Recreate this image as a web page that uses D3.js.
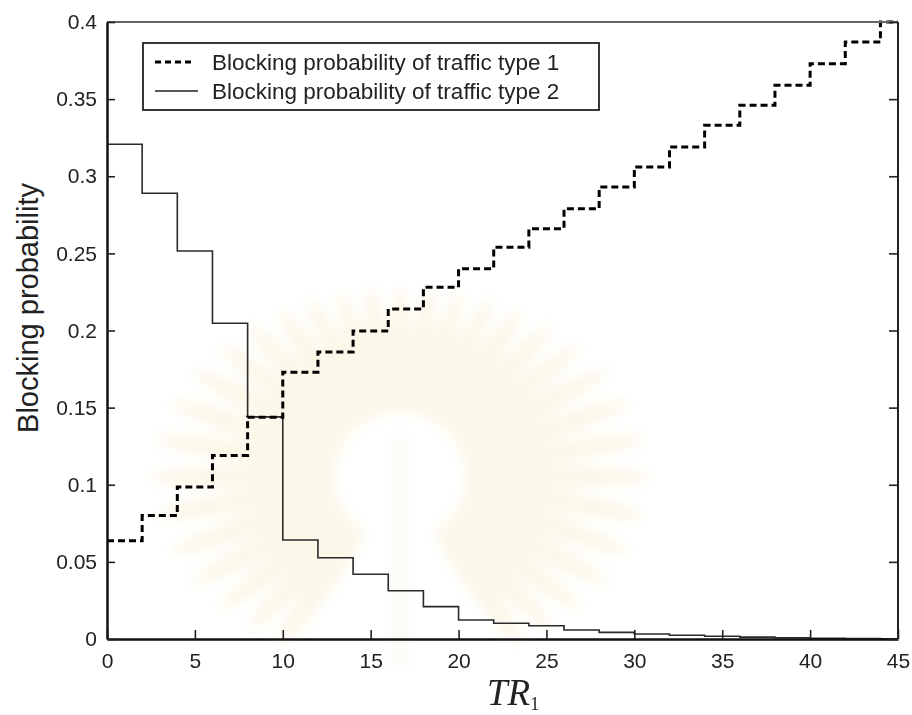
<!DOCTYPE html>
<html>
<head>
<meta charset="utf-8">
<title>Blocking probability vs TR1</title>
<script src="https://d3js.org/d3.v7.min.js"></script>
<style>
  body { margin: 0; background: #fff; }
  .tick-label { font: 21px "Liberation Sans", Arial, sans-serif; fill: #222; }
  .legend-text { font: 22.5px "Liberation Sans", Arial, sans-serif; fill: #222; }
  .y-title { font: 29px "Liberation Sans", Arial, sans-serif; fill: #222; }
  .x-title { font-family: "Liberation Serif", "Times New Roman", serif; font-style: italic; fill: #222; }
</style>
</head>
<body>
<svg id="chart" width="912" height="715"></svg>
<script>
// step start points along TR1 (each level holds for 2 units)
const tr = [0, 2, 4, 6, 8, 10, 12, 14, 16, 18, 20, 22, 24, 26, 28, 30, 32, 34, 36, 38, 40, 42, 44];
const type1 = [0.0637, 0.080, 0.0985, 0.119, 0.1437, 0.173, 0.186, 0.1997, 0.214, 0.228, 0.240, 0.254,
               0.266, 0.279, 0.293, 0.306, 0.319, 0.333, 0.346, 0.359, 0.373, 0.387, 0.400];
const type2 = [0.3207, 0.289, 0.2515, 0.2047, 0.144, 0.0642, 0.0527, 0.042, 0.0313, 0.021, 0.0123, 0.0102,
               0.0086, 0.0058, 0.0043, 0.0032, 0.0024, 0.0018, 0.0012, 0.0008, 0.0005, 0.0003, 0.0002];
const xTicks = [0, 5, 10, 15, 20, 25, 30, 35, 40, 45];
const yTicks = [0, 0.05, 0.1, 0.15, 0.2, 0.25, 0.3, 0.35, 0.4];
const legendLabels = ["Blocking probability of traffic type 1", "Blocking probability of traffic type 2"];
const xEnd = 45;

const svg = d3.select("#chart");
const pLeft = 107, pRight = 898, pTop = 22, pBottom = 639;

const x = d3.scaleLinear().domain([0, 45]).range([pLeft, pRight]);
const y = d3.scaleLinear().domain([0, 0.4]).range([pBottom, pTop]);

// very faint watermark sunburst behind the plot
const defs = svg.append("defs");
defs.append("filter").attr("id", "blur")
  .append("feGaussianBlur").attr("stdDeviation", 6);
const wm = svg.append("g").attr("filter", "url(#blur)").attr("opacity", 0.22);
const cx = 400, cy = 477;
d3.range(0, 360, 9).forEach(function(a) {
  if (a > 60 && a < 120) return;
  const rad = a * Math.PI / 180;
  const rOut = 1 / Math.sqrt(Math.pow(Math.cos(rad) / 250, 2) + Math.pow(Math.sin(rad) / 190, 2));
  const r0 = 62;
  const len = rOut - r0;
  const mx = cx + Math.cos(rad) * (r0 + len / 2), my = cy + Math.sin(rad) * (r0 + len / 2);
  wm.append("ellipse")
    .attr("cx", mx).attr("cy", my)
    .attr("rx", len / 2).attr("ry", 11)
    .attr("transform", "rotate(" + a + "," + mx + "," + my + ")")
    .attr("fill", "#eedc9a");
});
wm.append("rect").attr("x", cx - 8).attr("y", cy - 40).attr("width", 16).attr("height", 230)
  .attr("fill", "#e6dcc0").attr("opacity", 0.6);

// data lines
function series(vals) {
  const pts = tr.map(function(t, i) { return [t, vals[i]]; });
  pts.push([xEnd, vals[vals.length - 1]]);
  return pts;
}
const line = d3.line()
  .x(function(d) { return x(d[0]); })
  .y(function(d) { return y(d[1]); })
  .curve(d3.curveStepAfter);

svg.append("path")
  .attr("d", line(series(type2)))
  .attr("fill", "none")
  .attr("stroke", "#2a2a2a")
  .attr("stroke-width", 1.6);

svg.append("path")
  .attr("d", line(series(type1)))
  .attr("fill", "none")
  .attr("stroke", "#000")
  .attr("stroke-width", 3)
  .attr("stroke-dasharray", "7,4");

// frame
svg.append("line").attr("x1", pLeft).attr("x2", pRight).attr("y1", pTop).attr("y2", pTop)
  .attr("stroke", "#666").attr("stroke-width", 2);
svg.append("line").attr("x1", pRight).attr("x2", pRight).attr("y1", pTop).attr("y2", pBottom)
  .attr("stroke", "#222").attr("stroke-width", 2);

// axes with inward ticks
const xAxis = d3.axisBottom(x).tickValues(xTicks).tickSizeInner(-9).tickSizeOuter(0).tickPadding(14);
const gx = svg.append("g").attr("transform", "translate(0," + pBottom + ")").call(xAxis);
gx.select(".domain").attr("stroke", "#111").attr("stroke-width", 2.5);
gx.selectAll(".tick line").attr("stroke", "#222").attr("stroke-width", 1.6);
gx.selectAll(".tick text").attr("class", "tick-label").attr("dy", "0.71em");

const yAxis = d3.axisLeft(y).tickValues(yTicks).tickSizeInner(-8).tickSizeOuter(0).tickPadding(10)
  .tickFormat(function(d) { return d === 0 ? "0" : String(+d.toFixed(2)); });
const gy = svg.append("g").attr("transform", "translate(" + pLeft + ",0)").call(yAxis);
gy.select(".domain").attr("stroke", "#111").attr("stroke-width", 2.5);
gy.selectAll(".tick line").attr("stroke", "#222").attr("stroke-width", 1.6);
gy.selectAll(".tick text").attr("class", "tick-label");

const yRight = d3.axisRight(y).tickValues(yTicks).tickSizeInner(-9).tickSizeOuter(0).tickFormat("");
const gr = svg.append("g").attr("transform", "translate(" + pRight + ",0)").call(yRight);
gr.select(".domain").remove();
gr.selectAll(".tick line").attr("stroke", "#222").attr("stroke-width", 1.6);

// axis titles
svg.append("text")
  .attr("class", "y-title")
  .attr("transform", "translate(38," + 308 + ") rotate(-90)")
  .attr("text-anchor", "middle")
  .text("Blocking probability");

const xt = svg.append("text").attr("class", "x-title").attr("x", 487).attr("y", 705);
xt.append("tspan").attr("font-size", 37).text("TR");
xt.append("tspan").attr("font-size", 18).attr("font-style", "normal").attr("dy", 5).text("1");

// legend
const lg = svg.append("g");
lg.append("rect").attr("x", 143).attr("y", 43).attr("width", 456).attr("height", 67)
  .attr("fill", "#fff").attr("stroke", "#222").attr("stroke-width", 1.8);
lg.append("line").attr("x1", 155).attr("x2", 194).attr("y1", 62).attr("y2", 62)
  .attr("stroke", "#000").attr("stroke-width", 3).attr("stroke-dasharray", "6,4");
lg.append("line").attr("x1", 155).attr("x2", 198).attr("y1", 91).attr("y2", 91)
  .attr("stroke", "#222").attr("stroke-width", 1.6);
legendLabels.forEach(function(t, i) {
  lg.append("text").attr("class", "legend-text").attr("x", 212).attr("y", 70 + i * 29).text(t);
});
</script>
</body>
</html>
